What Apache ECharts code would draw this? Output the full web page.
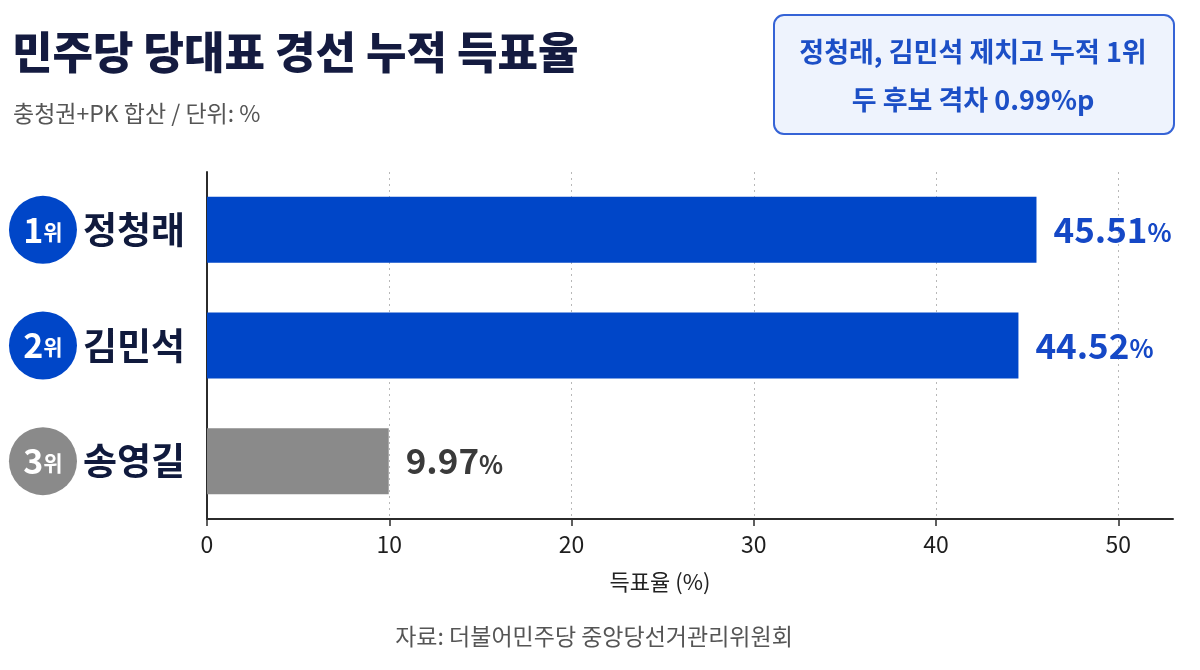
<!DOCTYPE html>
<html>
<head>
<meta charset="utf-8">
<script src="https://cdn.jsdelivr.net/npm/echarts@6/dist/echarts.min.js"></script>
<style>
html,body{margin:0;padding:0;background:#fff;}
#c{width:1200px;height:670px;}
</style>
</head>
<body>
<div id="c"></div>
<script>
const candidates = ['정청래', '김민석', '송영길'];
const ranks = ['1', '2', '3'];
const shares = [45.51, 44.52, 9.97];
const xTicks = [0, 10, 20, 30, 40, 50];
const titleText = '민주당 당대표 경선 누적 득표율';
const subtitleText = '충청권+PK 합산 / 단위: %';
const noteLines = ['정청래, 김민석 제치고 누적 1위', '두 후보 격차 0.99%p'];
const sourceText = '자료: 더불어민주당 중앙당선거관리위원회';

const FONT = '"Noto Sans CJK KR", "Noto Sans", sans-serif';
const BLUE = '#0046c8';
const GRAY = '#8a8a8a';
const NAVY = '#101a3d';
const colors = [BLUE, BLUE, GRAY];
const labelColors = ['#1548c6', '#1548c6', '#3a3a3a'];
const BADGE_X = -9;

const chart = echarts.init(document.getElementById('c'), null, {renderer: 'canvas'});

const option = {
  backgroundColor: '#ffffff',
  textStyle: {fontFamily: FONT},
  animation: false,
  grid: {left: 207, right: 27, top: 172, bottom: 151},
  xAxis: {
    type: 'value',
    min: 0,
    max: 53,
    interval: 10,
    name: '득표율 (%)',
    nameLocation: 'middle',
    nameGap: 52,
    nameTextStyle: {fontFamily: FONT, fontSize: 22, color: '#222', padding: [0, 60, 0, 0]},
    axisLine: {show: true, lineStyle: {color: '#2b2b2b', width: 2}},
    axisTick: {show: true, length: 7, lineStyle: {color: '#2b2b2b', width: 1.5}, customValues: xTicks},
    axisLabel: {fontFamily: FONT, fontSize: 23, color: '#1e1e1e', margin: 14, customValues: xTicks},
    splitLine: {show: true, lineStyle: {color: '#b8b8b8', type: [2, 4], width: 1}}
  },
  yAxis: {
    type: 'category',
    data: candidates,
    inverse: true,
    axisLine: {show: true, lineStyle: {color: '#2b2b2b', width: 2}},
    axisTick: {show: false},
    axisLabel: {fontFamily: FONT, fontSize: 37, fontWeight: 'bold', color: NAVY, margin: 22}
  },
  series: [
    {
      type: 'bar',
      barWidth: 66,
      data: shares.map((v, i) => ({value: v, itemStyle: {color: colors[i]},
        label: {rich: {v: {color: labelColors[i]}, p: {color: labelColors[i]}}}})),
      label: {
        show: true,
        position: 'right',
        distance: 17,
        formatter: p => '{v|' + p.value.toFixed(2) + '}{p|%}',
        rich: {
          v: {fontFamily: FONT, fontSize: 35, fontWeight: 'bold'},
          p: {fontFamily: FONT, fontSize: 25, fontWeight: 'bold', padding: [6, 0, 0, 0]}
        }
      }
    },
    {
      type: 'scatter',
      clip: false,
      symbol: 'circle',
      symbolSize: 68,
      z: 5,
      itemStyle: {opacity: 1},
      data: candidates.map((c, i) => ({value: [BADGE_X, c], itemStyle: {color: colors[i], opacity: 1}})),
      label: {
        show: true,
        position: 'inside',
        formatter: p => '{n|' + ranks[p.dataIndex] + '}{w|위}',
        rich: {
          n: {fontFamily: FONT, fontSize: 34, fontWeight: 'bold', color: '#fff'},
          w: {fontFamily: FONT, fontSize: 21, fontWeight: 'bold', color: '#fff', padding: [4, 0, 0, 0]}
        }
      }
    }
  ],
  graphic: [
    {type: 'text', left: 12, top: 30, style: {text: titleText, font: '900 44px ' + FONT, fill: '#141b40'}},
    {type: 'text', left: 13, top: 102, style: {text: subtitleText, font: '23px ' + FONT, fill: '#555'}},
    {type: 'rect', left: 773, top: 14, shape: {width: 400, height: 119, r: 10},
      style: {fill: '#eef3fd', stroke: '#3563d6', lineWidth: 2}},
    {type: 'text', x: 973, y: 52, style: {text: noteLines[0], font: 'bold 27px ' + FONT, fill: '#1c4fc6', align: 'center', verticalAlign: 'middle'}},
    {type: 'text', x: 973, y: 100, style: {text: noteLines[1], font: 'bold 27px ' + FONT, fill: '#1c4fc6', align: 'center', verticalAlign: 'middle'}},
    {type: 'text', x: 594, y: 636, style: {text: sourceText, font: '23px ' + FONT, fill: '#555', align: 'center', verticalAlign: 'middle'}}
  ]
};
chart.setOption(option);
</script>
</body>
</html>
